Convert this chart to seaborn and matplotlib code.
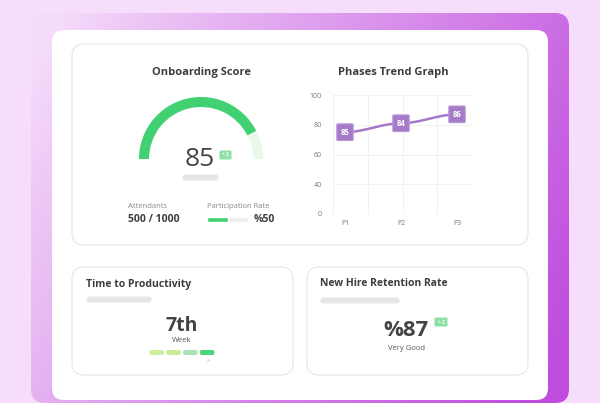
import matplotlib.pyplot as plt
import numpy as np
import pandas as pd
import seaborn as sns
from matplotlib.patches import FancyBboxPatch, Wedge

sns.set_theme(style="white")
plt.rcParams["font.family"] = ["Open Sans", "DejaVu Sans"]

# data
score = 85
score_change = 2
attendants = 500
attendants_total = 1000
participation = 50
phases = ["P1", "P2", "P3"]
phase_values = [75, 81, 87]
phase_labels = ["85", "84", "86"]
ytick_pos = [20, 40, 60, 80, 100]
ytick_labels = ["0", "40", "60", "80", "100"]
week = "7th"
week_segments = ["#cfee9c", "#c9ec98", "#a9e2b2", "#4cd47a"]
retention = 87
retention_change = 2

GREEN = "#42d172"
PURPLE = "#a57bc9"
TXT = "#3d3d3d"

fig = plt.figure(figsize=(6, 4.03), dpi=100)
fig.patch.set_facecolor("#f5ddfb")
ax = fig.add_axes([0, 0, 1, 1])
ax.set_xlim(0, 600)
ax.set_ylim(403, 0)
ax.axis("off")


def card(x0, y0, x1, y1, r, fc="white", ec="none", lw=0.8, z=2):
    p = FancyBboxPatch((x0 + r, y0 + r), x1 - x0 - 2 * r, y1 - y0 - 2 * r,
                       boxstyle="round,pad=%d" % r, fc=fc, ec=ec, lw=lw, zorder=z)
    ax.add_patch(p)
    return p


# purple gradient panel
panel = card(31, 13, 569, 403, 14, fc="none", z=1)
gx, gy = np.meshgrid(np.linspace(0, 1, 300), np.linspace(0, 1, 200))
t = np.clip(0.8 * gx + 0.3 * gy - 0.05, 0, 1)
c0 = np.array([0.96, 0.86, 0.98])
c1 = np.array([0.75, 0.30, 0.87])
img = c0 + (c1 - c0) * t[..., None] ** 0.9
im = ax.imshow(img, extent=(31, 569, 403, 13), zorder=1, aspect="auto")
im.set_clip_path(panel)

# white card and sub cards
card(52, 30, 548, 400, 12, z=2)
card(72, 44, 528, 245, 12, ec="#e6e6e6", z=3)
card(72, 267, 293, 375, 12, ec="#e6e6e6", z=3)
card(307, 267, 528, 375, 12, ec="#e6e6e6", z=3)

# onboarding score gauge (y axis is inverted, so angles run clockwise)
ax.text(201, 73, "Onboarding Score", ha="center", va="center", fontsize=8,
        fontweight="bold", color=TXT, zorder=5)
cx, cy, ro = 201, 159, 62
split = 360 - 180 * (1 - score / 100)
ax.add_patch(Wedge((cx, cy), ro, split, 360, width=10, fc="#e8f9ec", ec="none", zorder=4))
ax.add_patch(Wedge((cx, cy), ro, 180, split, width=10, fc=GREEN, ec="none", zorder=4))
ax.text(200, 160, str(score), ha="center", va="center", fontsize=19, color="#444444", zorder=5)
card(219, 150, 232, 160, 1.5, fc="#8fe0a6", z=5)
ax.text(225.5, 155, "^ %d" % score_change, ha="center", va="center", fontsize=3.5,
        color="white", fontweight="bold", zorder=6)
card(182, 174, 219, 181, 3.5, fc="#e6e6e6", z=5)

ax.text(128, 206, "Attendants", ha="left", va="center", fontsize=5.5, color="#8a8a8a", zorder=5)
ax.text(128, 219, "%d / %d" % (attendants, attendants_total), ha="left", va="center",
        fontsize=7.5, fontweight="bold", color=TXT, zorder=5)
ax.text(207, 206, "Participation Rate", ha="left", va="center", fontsize=5.5,
        color="#8a8a8a", zorder=5)
bar_w = 41
ax.barh([219], [bar_w], left=207, height=5, color="#ececec", zorder=5)
ax.barh([219], [bar_w * participation / 100], left=207, height=5, color=GREEN, zorder=6)
ax.text(254, 219, "%%%d" % participation, ha="left", va="center", fontsize=7.5,
        fontweight="bold", color=TXT, zorder=5)

# phases trend graph
ax.text(393, 73, "Phases Trend Graph", ha="center", va="center", fontsize=8,
        fontweight="bold", color=TXT, zorder=5)
lax = fig.add_axes([333 / 600, 1 - 214 / 403, 139 / 600, 119 / 403], zorder=10)
lax.patch.set_alpha(0)
xs = np.arange(len(phases))
curve_x, curve_y = [], []
for i in range(len(xs) - 1):
    s = np.linspace(0, 1, 40)
    h = 3 * s ** 2 - 2 * s ** 3
    curve_x += list(xs[i] + s)
    curve_y += list(phase_values[i] + (phase_values[i + 1] - phase_values[i]) * h)
curve = pd.DataFrame({"x": curve_x, "y": curve_y})
sns.lineplot(data=curve, x="x", y="y", ax=lax, color=PURPLE, lw=1.8, zorder=3)
for xi, v, lab in zip(xs, phase_values, phase_labels):
    lax.text(xi, v, lab, ha="center", va="center", fontsize=5.5, color="white",
             fontweight="bold", zorder=5,
             bbox=dict(boxstyle="round,pad=0.5,rounding_size=0.15", fc=PURPLE, ec="#b896d6", lw=0.8))
xmin, xmax = -12 / 56, 2 + 15 / 56
lax.set_xlim(xmin, xmax)
lax.set_ylim(20, 100)
lax.set_xticks(xs)
lax.set_xticklabels(phases)
lax.set_xticks(np.linspace(xmin, xmax, 5), minor=True)
lax.set_yticks(ytick_pos)
lax.set_yticklabels(ytick_labels)
lax.grid(False)
lax.grid(which="minor", axis="x", color="#f1f1f1", lw=0.7)
lax.grid(which="major", axis="y", color="#f1f1f1", lw=0.7)
lax.tick_params(axis="both", which="both", length=0, labelsize=5, labelcolor="#777777")
lax.tick_params(axis="y", pad=8)
lax.tick_params(axis="x", pad=4)
lax.set_xlabel("")
lax.set_ylabel("")
for sp in lax.spines.values():
    sp.set_visible(False)

# time to productivity
ax.text(86, 284, "Time to Productivity", ha="left", va="center", fontsize=7.5,
        fontweight="bold", color=TXT, zorder=5)
card(86, 296, 152, 303, 3.5, fc="#e6e6e6", z=5)
ax.text(182, 326, week, ha="center", va="center", fontsize=14, fontweight="bold",
        color="#444444", zorder=5)
ax.text(182, 341, "Week", ha="center", va="center", fontsize=5.5, color="#555555", zorder=5)
for i, c in enumerate(week_segments):
    x0 = 149 + i * 16.8
    card(x0, 349.5, x0 + 15.5, 355.5, 2.5, fc=c, z=5)
ax.text(208, 361, "^", ha="center", va="center", fontsize=4, color="#999999", zorder=5)

# new hire retention rate
ax.text(320, 284, "New Hire Retention Rate", ha="left", va="center", fontsize=7.5,
        fontweight="bold", color=TXT, zorder=5)
card(320, 297, 400, 304, 3.5, fc="#e6e6e6", z=5)
ax.text(406, 330, "%%%d" % retention, ha="center", va="center", fontsize=16,
        fontweight="bold", color="#444444", zorder=5)
card(434, 317, 448, 327, 1.5, fc="#8fe0a6", z=5)
ax.text(441, 322, "^ %d" % retention_change, ha="center", va="center", fontsize=3.5,
        color="white", fontweight="bold", zorder=6)
ax.text(406, 349, "Very Good", ha="center", va="center", fontsize=5.5, color="#555555", zorder=5)

fig.savefig("out.png", dpi=100, facecolor=fig.get_facecolor())
